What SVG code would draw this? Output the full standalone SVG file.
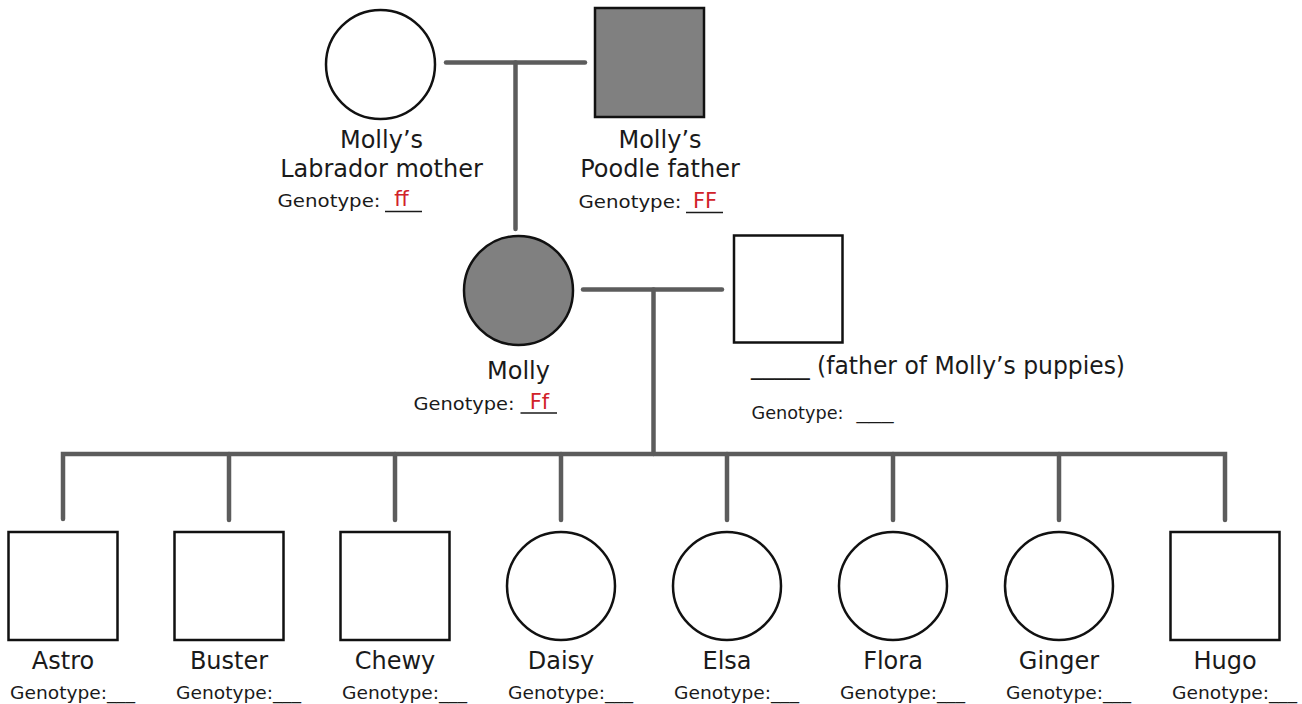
<svg xmlns="http://www.w3.org/2000/svg" width="1302" height="704" viewBox="0 0 1302 704">
  <style>
    .bg { fill: #ffffff; }
    .link { fill: none; stroke: #5c5c5c; stroke-width: 4.5; stroke-linecap: round; stroke-linejoin: miter; }
    .plain { fill: #ffffff; stroke: #111111; stroke-width: 2.5; }
    .affected { fill: #808080; stroke: #111111; stroke-width: 2.5; }
    .blank { stroke: #1a1a1a; stroke-width: 1.4; }
    .name { font-family: "DejaVu Sans", "Liberation Sans", sans-serif; font-size: 24px; fill: #1a1a1a; text-anchor: middle; }
    .geno { font-family: "DejaVu Sans", "Liberation Sans", sans-serif; font-size: 18px; fill: #1a1a1a; }
    .allele { font-family: "DejaVu Sans", "Liberation Sans", sans-serif; font-size: 21px; fill: #d12229; text-anchor: middle; }
    .note { font-family: "DejaVu Sans", "Liberation Sans", sans-serif; font-size: 24px; fill: #1a1a1a; }
  </style>
  <rect class="bg" x="0" y="0" width="1302" height="704"/>

  <!-- pedigree lines -->
  <g id="connectors">
    <line class="link" x1="446" y1="62.5" x2="585" y2="62.5"/>
    <line class="link" x1="515.5" y1="62.5" x2="515.5" y2="229"/>
    <line class="link" x1="583" y1="289.5" x2="722" y2="289.5"/>
    <line class="link" x1="653.5" y1="289.5" x2="653.5" y2="454"/>
    <path class="link" d="M63 519 V454 H1225 V520"/>
    <line class="link" x1="229" y1="454" x2="229" y2="520"/>
    <line class="link" x1="395" y1="454" x2="395" y2="520"/>
    <line class="link" x1="561" y1="454" x2="561" y2="520"/>
    <line class="link" x1="727" y1="454" x2="727" y2="520"/>
    <line class="link" x1="893" y1="454" x2="893" y2="520"/>
    <line class="link" x1="1059" y1="454" x2="1059" y2="520"/>
  </g>

  <!-- grandparents -->
  <g id="labrador-mother">
    <circle class="plain" cx="380.5" cy="64.5" r="54.5"/>
    <text class="name" x="381.5" y="148">Molly’s</text>
    <text class="name" x="381.5" y="177">Labrador mother</text>
    <text class="geno" x="277.5" y="207" textLength="103" lengthAdjust="spacingAndGlyphs">Genotype:</text>
    <line class="blank" x1="385" y1="211.5" x2="422" y2="211.5"/>
    <text class="allele" x="401.5" y="206">ff</text>
  </g>

  <g id="poodle-father">
    <rect class="affected" x="595" y="8" width="109" height="109"/>
    <text class="name" x="660" y="148">Molly’s</text>
    <text class="name" x="660" y="177">Poodle father</text>
    <text class="geno" x="578.5" y="208" textLength="103" lengthAdjust="spacingAndGlyphs">Genotype:</text>
    <line class="blank" x1="686" y1="212.5" x2="723" y2="212.5"/>
    <text class="allele" x="705" y="207.5">FF</text>
  </g>

  <!-- parents -->
  <g id="molly">
    <circle class="affected" cx="518.5" cy="290.5" r="54.5"/>
    <text class="name" x="518.5" y="378.5">Molly</text>
    <text class="geno" x="413.5" y="409.5" textLength="101" lengthAdjust="spacingAndGlyphs">Genotype:</text>
    <line class="blank" x1="520.5" y1="413" x2="557" y2="413"/>
    <text class="allele" x="539.5" y="408.5">Ff</text>
  </g>

  <g id="puppies-father">
    <rect class="plain" x="734" y="235.5" width="108.5" height="107"/>
    <text class="note" x="751" y="374" textLength="374" lengthAdjust="spacingAndGlyphs">_____ (father of Molly’s puppies)</text>
    <text class="geno" x="751.5" y="418.5" textLength="92" lengthAdjust="spacingAndGlyphs">Genotype:</text>
    <text class="geno" x="856.5" y="418.5" textLength="37" lengthAdjust="spacingAndGlyphs">___</text>
  </g>

  <!-- puppies -->
  <g id="astro">
    <rect class="plain" x="8.5" y="532" width="109" height="108"/>
    <text class="name" x="63" y="669">Astro</text>
    <text class="geno" x="10" y="699" textLength="125" lengthAdjust="spacingAndGlyphs">Genotype:___</text>
  </g>
  <g id="buster">
    <rect class="plain" x="174.5" y="532" width="109" height="108"/>
    <text class="name" x="229" y="669">Buster</text>
    <text class="geno" x="176" y="699" textLength="125" lengthAdjust="spacingAndGlyphs">Genotype:___</text>
  </g>
  <g id="chewy">
    <rect class="plain" x="340.5" y="532" width="109" height="108"/>
    <text class="name" x="395" y="669">Chewy</text>
    <text class="geno" x="342" y="699" textLength="125" lengthAdjust="spacingAndGlyphs">Genotype:___</text>
  </g>
  <g id="daisy">
    <circle class="plain" cx="561" cy="586" r="54"/>
    <text class="name" x="561" y="669">Daisy</text>
    <text class="geno" x="508" y="699" textLength="125" lengthAdjust="spacingAndGlyphs">Genotype:___</text>
  </g>
  <g id="elsa">
    <circle class="plain" cx="727" cy="586" r="54"/>
    <text class="name" x="727" y="669">Elsa</text>
    <text class="geno" x="674" y="699" textLength="125" lengthAdjust="spacingAndGlyphs">Genotype:___</text>
  </g>
  <g id="flora">
    <circle class="plain" cx="893" cy="586" r="54"/>
    <text class="name" x="893" y="669">Flora</text>
    <text class="geno" x="840" y="699" textLength="125" lengthAdjust="spacingAndGlyphs">Genotype:___</text>
  </g>
  <g id="ginger">
    <circle class="plain" cx="1059" cy="586" r="54"/>
    <text class="name" x="1059" y="669">Ginger</text>
    <text class="geno" x="1006" y="699" textLength="125" lengthAdjust="spacingAndGlyphs">Genotype:___</text>
  </g>
  <g id="hugo">
    <rect class="plain" x="1170.5" y="532" width="109" height="108"/>
    <text class="name" x="1225" y="669">Hugo</text>
    <text class="geno" x="1172" y="699" textLength="125" lengthAdjust="spacingAndGlyphs">Genotype:___</text>
  </g>
</svg>
